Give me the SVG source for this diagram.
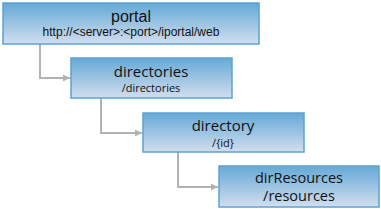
<svg xmlns="http://www.w3.org/2000/svg" width="381" height="209" viewBox="0 0 381 209">
<style>
.box{fill:url(#g);stroke:#5ba3d3;stroke-width:1.5}
.c{fill:none;stroke:#b3b3b3;stroke-width:2}
.t1{font-family:"Liberation Sans",Arial,sans-serif;fill:#111;text-anchor:middle}
.t2{font-family:"Open Sans","DejaVu Sans",sans-serif;fill:#111;text-anchor:middle}
</style>
<defs>
<linearGradient id="g" x1="0" y1="0" x2="0" y2="1">
<stop offset="0" stop-color="#65a9d6"/>
<stop offset="1" stop-color="#d2deee"/>
</linearGradient>
<marker id="a" markerWidth="8" markerHeight="8" refX="7" refY="4" orient="auto" markerUnits="userSpaceOnUse">
<path d="M0,0.5 L7,4 L0,7.5 Z" fill="#b3b3b3"/>
</marker>
</defs>
<g id="connectors">
<path class="c" d="M40,44 V78 H70" marker-end="url(#a)"/>
<path class="c" d="M101,98 V133 H142" marker-end="url(#a)"/>
<path class="c" d="M178,152 V187 H218" marker-end="url(#a)"/>
</g>
<g id="portal">
<rect class="box" x="3" y="3" width="256" height="41"/>
<text class="t1" x="131" y="22" font-size="16">portal</text>
<text class="t1" x="131" y="36" font-size="12">http://&lt;server&gt;:&lt;port&gt;/iportal/web</text>
</g>
<g id="directories">
<rect class="box" x="71" y="58" width="161" height="40"/>
<text class="t2" x="151" y="77" font-size="15">directories</text>
<text class="t2" x="151" y="92" font-size="11">/directories</text>
</g>
<g id="directory">
<rect class="box" x="143" y="113" width="161" height="39"/>
<text class="t2" x="223" y="131" font-size="15">directory</text>
<text class="t2" x="223" y="147" font-size="11">/{id}</text>
</g>
<g id="dirResources">
<rect class="box" x="219" y="166" width="160" height="41"/>
<text class="t2" x="299" y="183" font-size="14.5">dirResources</text>
<text class="t2" x="299" y="201" font-size="14.5">/resources</text>
</g>
</svg>
